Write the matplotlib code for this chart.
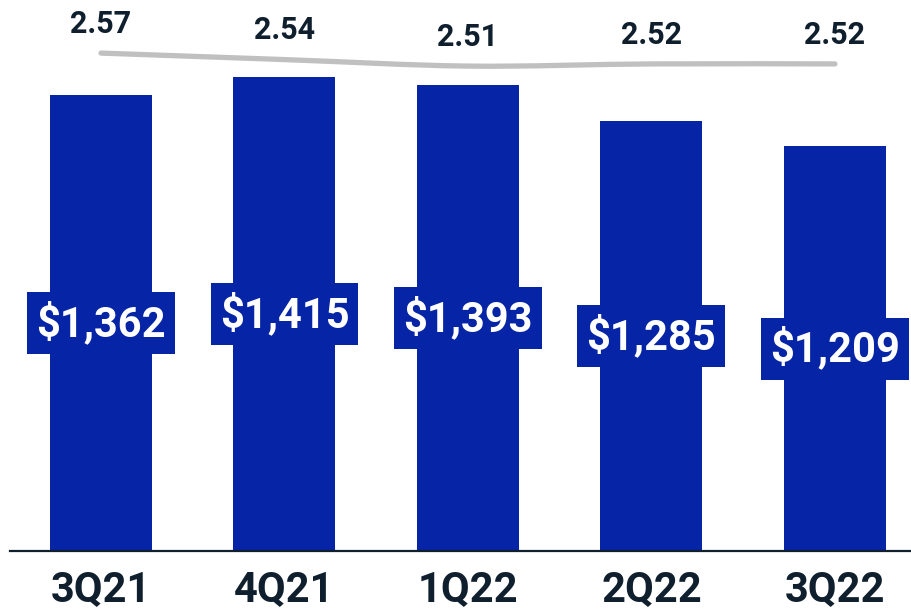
import matplotlib.pyplot as plt
from matplotlib.path import Path
from matplotlib.patches import PathPatch
import numpy as np

quarters = ["3Q21", "4Q21", "1Q22", "2Q22", "3Q22"]
revenue = [1362, 1415, 1393, 1285, 1209]
ratio = [2.57, 2.54, 2.51, 2.52, 2.52]

BAR_COLOR = "#0624A6"
TEXT_COLOR = "#0F1F2D"
LINE_COLOR = "#C0C0C0"

plt.rcParams['font.family'] = ['Roboto', 'DejaVu Sans']


def smooth_path(xs, ys):
    # Catmull-Rom style cubic segments through every point
    pts = np.column_stack([xs, ys]).astype(float)
    n = len(pts)
    verts = [pts[0]]
    codes = [Path.MOVETO]
    for i in range(n - 1):
        p0 = pts[max(i - 1, 0)]
        p1 = pts[i]
        p2 = pts[i + 1]
        p3 = pts[min(i + 2, n - 1)]
        c1 = p1 + (p2 - p0) / 6
        c2 = p2 - (p3 - p1) / 6
        verts += [c1, c2, p2]
        codes += [Path.CURVE4] * 3
    return Path(verts, codes)


W, H = 912, 613
fig = plt.figure(figsize=(W / 100, H / 100), dpi=100)
# axes box in pixels: left 10, bottom 62 from the bottom edge, up to the top
ax = fig.add_axes([10 / W, 62 / H, 902 / W, 551 / H])

x = np.arange(len(quarters))
ax.bar(x, revenue, width=0.556, color=BAR_COLOR, zorder=2)
ax.set_xlim(-0.496, 4.42)
ax.set_ylim(0, 1646)

for xi, v in zip(x, revenue):
    ax.text(xi, v / 2, f"${v:,}", ha="center", va="center", color="white",
            fontsize=30, fontweight="bold", zorder=3,
            bbox=dict(boxstyle="square,pad=0.22", fc=BAR_COLOR, ec="none"))

for side in ["top", "right", "left"]:
    ax.spines[side].set_visible(False)
ax.spines["bottom"].set_color(TEXT_COLOR)
ax.spines["bottom"].set_linewidth(1.6)
ax.set_yticks([])
ax.set_xticks(x)
ax.set_xticklabels(quarters, fontsize=30, fontweight="bold", color=TEXT_COLOR)
ax.tick_params(axis="x", length=0, pad=14)

# ratio line on its own scale
ax2 = ax.twinx()
ax2.set_ylim(0.272, 2.815)
ax2.add_patch(PathPatch(smooth_path(x, ratio), fill=False, ec=LINE_COLOR,
                        lw=3.8, capstyle="round", zorder=4))
for xi, r in zip(x, ratio):
    ax2.annotate(f"{r:.2f}", (xi, r), xytext=(0, 21), textcoords="offset points",
                 ha="center", va="center", fontsize=22, fontweight="bold",
                 color=TEXT_COLOR)
ax2.axis("off")

fig.savefig("out.png", dpi=100)
